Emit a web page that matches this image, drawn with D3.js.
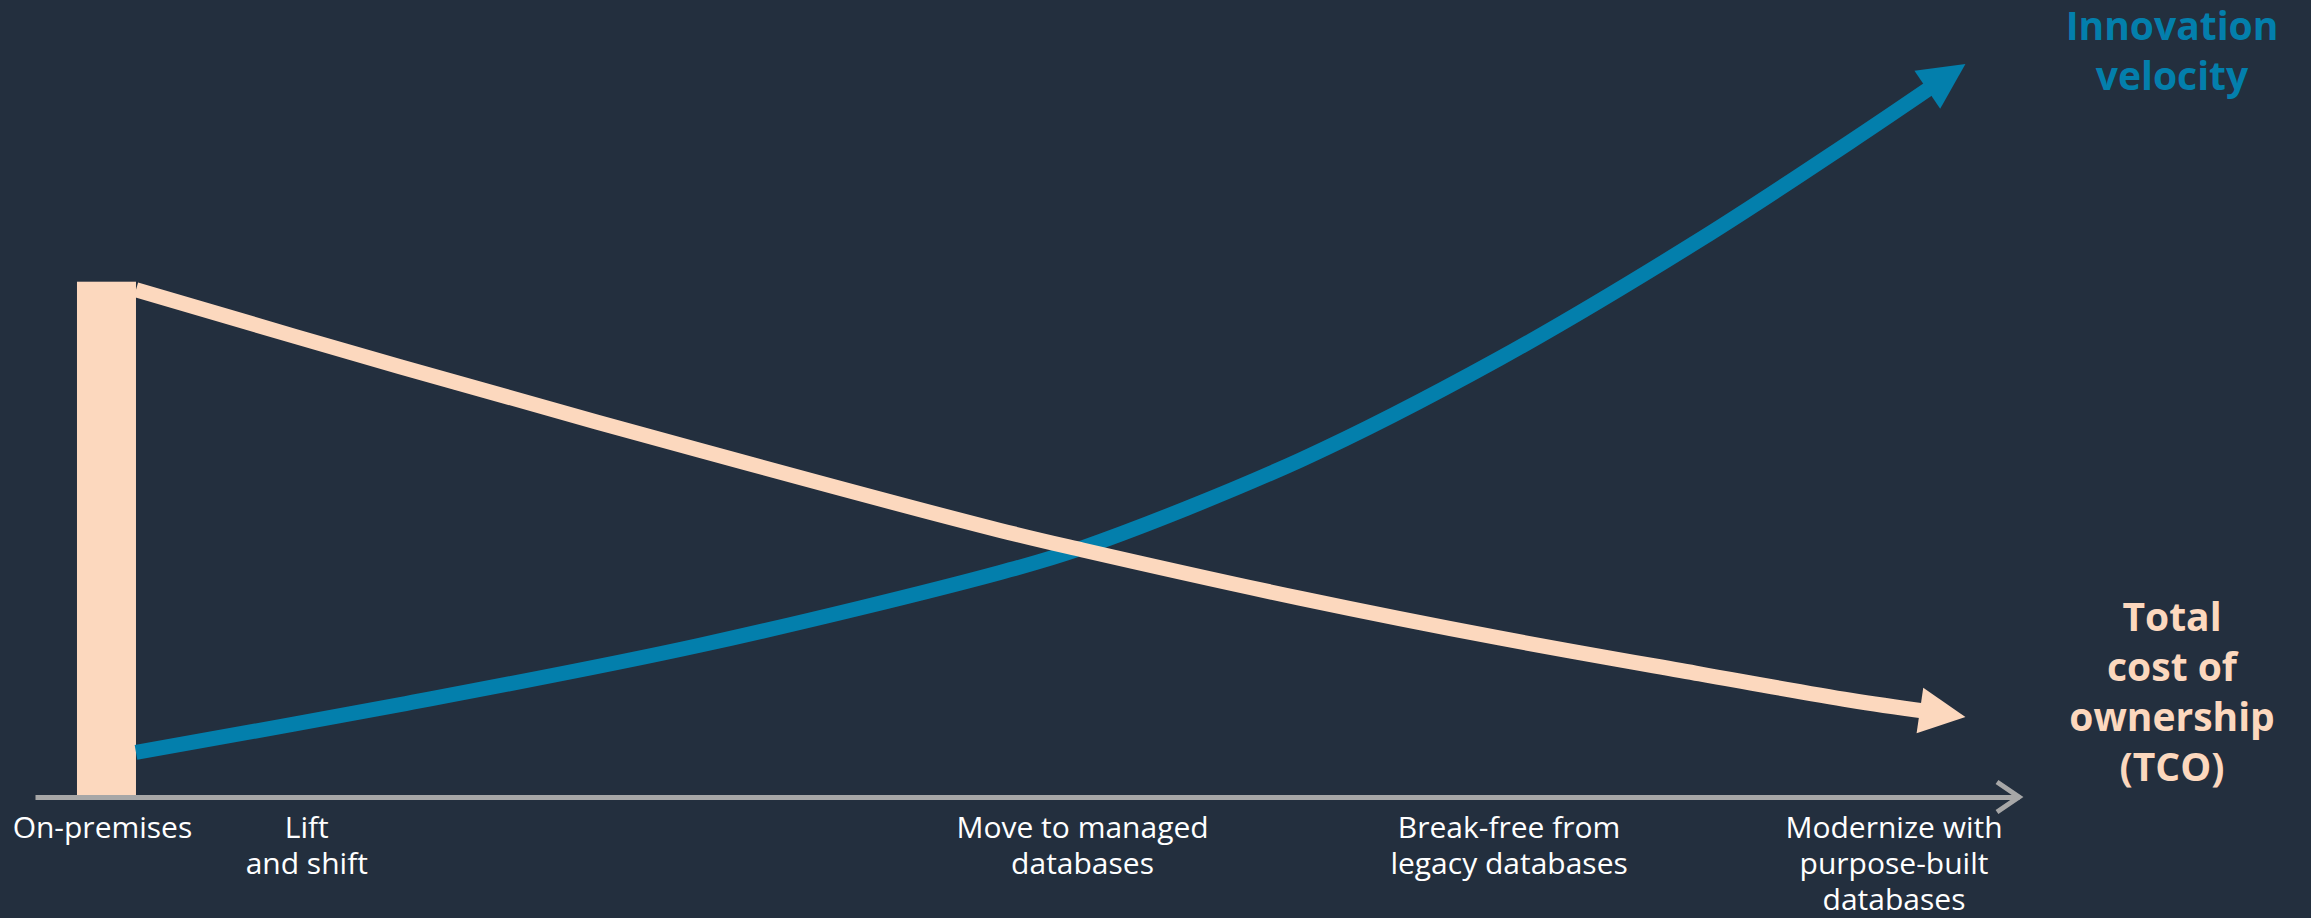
<!DOCTYPE html>
<html><head><meta charset="utf-8">
<script src="https://cdn.jsdelivr.net/npm/d3@7"></script>
<style>
html,body{margin:0;padding:0;background:#232f3e;overflow:hidden}
svg{display:block}
</style></head><body>
<svg id="chart" width="2311" height="918"></svg>
<script>
// ---- data ----
const stages = ["On-premises", "Lift|and shift", "Move to managed|databases", "Break-free from|legacy databases", "Modernize with|purpose-built|databases"];
const stagePos = [3.4, 13.7, 52.8, 74.3, 93.7];
const seriesX = [5.09, 18.4, 33.5, 48.6, 52.8, 63.8, 73.8, 83.9, 91.5, 97.3];
const tcoValues = [69.2, 58.7, 47.3, 36.4, 33.7, 27.1, 21.7, 16.8, 13.2, 10.9];
const innovationValues = [6.1, 12.6, 20.7, 30.6, 34.0, 46.0, 59.8, 76.0, 89.4, 100];
const onPremValue = 70.3;
const tcoLabel = ["Total", "cost of", "ownership", "(TCO)"];
const innovationLabel = ["Innovation", "velocity"];

// ---- styles / layout ----
const W = 2311, H = 918;
const BG = "#232f3e", PEACH = "#fcd8be", BLUE = "#037fac", GRAY = "#a7a7a7";
const FONT = "'Open Sans', 'Noto Sans', sans-serif";

const svg = d3.select("#chart");
svg.append("rect").attr("width", W).attr("height", H).attr("fill", BG);

const x = d3.scaleLinear().domain([0, 100]).range([35, 2019]);
const y = d3.scaleLinear().domain([0, 100]).range([797, 64]);

// axis
const axisG = svg.append("g").attr("transform", `translate(0,${y(0)})`)
  .call(d3.axisBottom(x).tickValues(stagePos).tickSize(0).tickSizeOuter(0).tickFormat(""));
axisG.select(".domain").attr("stroke", GRAY).attr("stroke-width", 5);
axisG.selectAll(".tick").remove();
// axis chevron
const xe = x(100);
svg.append("path")
  .attr("d", `M${xe - 22},${y(0) - 15}L${xe},${y(0)}L${xe - 22},${y(0) + 15}`)
  .attr("fill", "none").attr("stroke", GRAY).attr("stroke-width", 5)
  .attr("stroke-linejoin", "miter");

// stage labels
const lab = svg.append("g").attr("font-family", FONT).attr("font-size", 30)
  .attr("fill", "#ffffff").attr("text-anchor", "middle");
stages.forEach((s, i) => {
  const t = lab.append("text").attr("x", x(stagePos[i])).attr("y", 838);
  s.split("|").forEach((ln, j) => {
    t.append("tspan").attr("x", x(stagePos[i])).attr("dy", j === 0 ? 0 : 36).text(ln);
  });
});

// on-premises bar
const barW = 59;
svg.append("rect")
  .attr("x", x(seriesX[0]) - barW).attr("width", barW)
  .attr("y", y(onPremValue)).attr("height", y(0) - y(onPremValue) - 2)
  .attr("fill", PEACH);

// series with arrowheads
function drawArrowSeries(values, color) {
  const pts = seriesX.map((d, i) => [x(d), y(values[i])]);
  const tip = pts[pts.length - 1];
  const prev = pts[pts.length - 2];
  const dx = tip[0] - prev[0], dy = tip[1] - prev[1];
  const len = Math.hypot(dx, dy);
  const ux = dx / len, uy = dy / len;
  const headL = 46, headHalf = 23;
  const base = [tip[0] - ux * (headL - 6), tip[1] - uy * (headL - 6)];
  const linePts = pts.slice(0, -1).concat([base]);
  svg.append("path")
    .attr("d", d3.line().curve(d3.curveCatmullRom.alpha(0.5))(linePts))
    .attr("fill", "none").attr("stroke", color).attr("stroke-width", 15)
    .attr("stroke-linecap", "butt");
  const b = [tip[0] - ux * headL, tip[1] - uy * headL];
  const px = -uy, py = ux;
  svg.append("path")
    .attr("d", `M${tip[0]},${tip[1]}L${b[0] + px * headHalf},${b[1] + py * headHalf}L${b[0] - px * headHalf},${b[1] - py * headHalf}Z`)
    .attr("fill", color);
}
drawArrowSeries(innovationValues, BLUE);
drawArrowSeries(tcoValues, PEACH);

// series labels
function seriesLabel(lines, color, cx, firstBaseline) {
  const t = svg.append("text").attr("font-family", FONT).attr("font-weight", 700)
    .attr("font-size", 39).attr("fill", color).attr("text-anchor", "middle")
    .attr("x", cx).attr("y", firstBaseline);
  lines.forEach((ln, j) => t.append("tspan").attr("x", cx).attr("dy", j === 0 ? 0 : 50).text(ln));
}
seriesLabel(innovationLabel, BLUE, 2172, 40);
seriesLabel(tcoLabel, PEACH, 2172, 631);
</script>
</body></html>
